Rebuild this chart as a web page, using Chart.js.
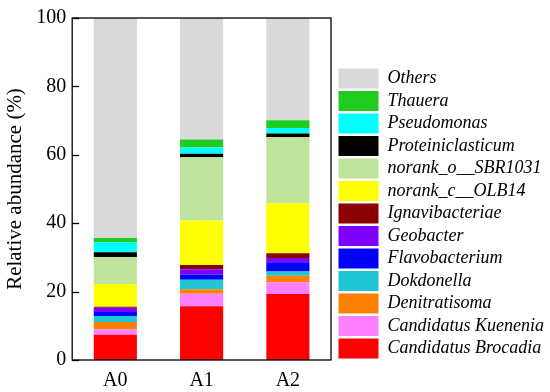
<!DOCTYPE html>
<html>
<head>
<meta charset="utf-8">
<script src="https://cdn.jsdelivr.net/npm/chart.js@4"></script>
<style>
  html, body { margin: 0; padding: 0; background: #fff; }
  #wrap { width: 550px; height: 392px; }
</style>
</head>
<body>
<div id="wrap"><canvas id="abundanceChart" width="550" height="392"></canvas></div>
<script>
// Samples
const samples = ['A0', 'A1', 'A2'];

// Taxa, bottom of stack first
const taxa = [
  'Candidatus Brocadia', 'Candidatus Kuenenia', 'Denitratisoma', 'Dokdonella',
  'Flavobacterium', 'Geobacter', 'Ignavibacteriae', 'norank_c__OLB14',
  'norank_o__SBR1031', 'Proteiniclasticum', 'Pseudomonas', 'Thauera', 'Others'
];

// Relative abundance (%) per taxon, for A0, A1, A2
const brocadia   = [7.4, 15.7, 19.3];
const kuenenia   = [1.5, 3.7, 3.4];
const denitrat   = [2.2, 1.3, 1.9];
const dokdonella = [1.75, 2.8, 1.3];
const flavo      = [1.2, 1.5, 2.7];
const geobacter  = [1.25, 1.5, 1.2];
const ignavi     = [0.3, 1.3, 1.4];
const olb14      = [6.6, 13.0, 14.6];
const sbr1031    = [7.9, 18.5, 19.3];
const proteini   = [1.4, 1.0, 1.1];
const pseudo     = [2.9, 1.8, 1.6];
const thauera    = [1.3, 2.4, 2.3];
const others     = [64.3, 35.5, 29.9];

const yTicks = [0, 20, 40, 60, 80, 100];

const series = [brocadia, kuenenia, denitrat, dokdonella, flavo, geobacter, ignavi,
  olb14, sbr1031, proteini, pseudo, thauera, others];
const colors = ['#ff0000', '#ff80ff', '#ff8000', '#1fc6d6', '#0000ff', '#8000ff', '#8b0000',
  '#ffff00', '#bfe39c', '#000000', '#00ffff', '#1fcc1f', '#d9d9d9'];

const serif = 'Liberation Serif, Times New Roman, serif';

// frame around the plot plus short inward ticks on the y axis
const frame = {
  id: 'frame',
  afterDraw(chart) {
    const { ctx, chartArea: a, scales: { y } } = chart;
    ctx.save();
    ctx.strokeStyle = '#000';
    ctx.lineWidth = 1.3;
    ctx.strokeRect(a.left, a.top, a.right - a.left, a.bottom - a.top);
    yTicks.forEach(v => {
      const py = Math.round(y.getPixelForValue(v)) + 0.5;
      ctx.beginPath();
      ctx.moveTo(a.left, py);
      ctx.lineTo(a.left + 7, py);
      ctx.stroke();
    });
    ctx.restore();
  }
};

const ctx = document.getElementById('abundanceChart').getContext('2d');

new Chart(ctx, {
  type: 'bar',
  data: {
    labels: samples,
    datasets: taxa.map((name, i) => ({
      label: name,
      data: series[i],
      backgroundColor: colors[i],
      borderWidth: 0,
      barPercentage: 0.5,
      categoryPercentage: 1
    }))
  },
  options: {
    responsive: false,
    animation: false,
    layout: { padding: { left: 0, right: 0, top: 7, bottom: -10 } },
    plugins: {
      legend: {
        position: 'right',
        reverse: true,
        maxWidth: 214,
        // empty title only pushes the entries down a little
        title: { display: true, text: '', font: { size: 10 }, padding: { top: 3, bottom: 3 } },
        labels: {
          boxWidth: 40,
          boxHeight: 20,
          padding: 2.5,
          color: '#000',
          font: { family: serif, size: 18, style: 'italic' }
        }
      },
      tooltip: { enabled: false }
    },
    scales: {
      x: {
        stacked: true,
        grid: { display: false, drawTicks: false },
        border: { display: false },
        ticks: { color: '#000', font: { family: serif, size: 20 }, padding: 9 }
      },
      y: {
        stacked: true,
        min: 0,
        max: 100,
        afterBuildTicks: scale => { scale.ticks = yTicks.map(v => ({ value: v })); },
        grid: { display: false, drawTicks: false },
        border: { display: false },
        ticks: { color: '#000', font: { family: serif, size: 20 }, padding: 6 },
        title: {
          display: true,
          text: 'Relative abundance (%)',
          color: '#000',
          font: { family: serif, size: 21 },
          padding: { top: 3, bottom: 2 }
        }
      },
      // empty spacer between plot and legend
      gap: {
        position: 'right',
        display: true,
        grid: { display: false, drawTicks: false },
        border: { display: false },
        ticks: { display: false },
        afterFit: scale => { scale.width = 5; }
      }
    }
  },
  plugins: [frame]
});
</script>
</body>
</html>
